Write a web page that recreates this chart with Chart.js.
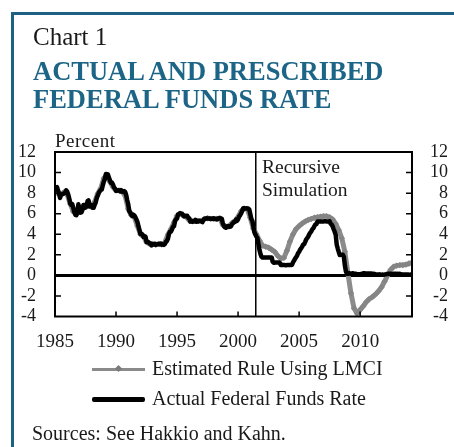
<!DOCTYPE html>
<html>
<head>
<meta charset="utf-8">
<script src="https://cdn.jsdelivr.net/npm/chart.js@4/dist/chart.umd.min.js"></script>
<style>
  html, body { margin:0; padding:0; background:#fff; }
  body { width:454px; height:447px; overflow:hidden; position:relative; font-family:"Liberation Serif","Times New Roman",serif; color:#1a1a1a; }
  #c { position:absolute; left:0; top:0; }
  .t { position:absolute; white-space:nowrap; }
  #frame { position:absolute; left:11px; top:12px; width:443px; height:435px; border-left:3px solid #1d6282; border-top:3px solid #1d6282; }
</style>
</head>
<body>
<div id="frame"></div>
<canvas id="c" width="454" height="447"></canvas>
<div class="t" style="left:33px;top:24px;font-size:25px;line-height:25px;">Chart 1</div>
<div class="t" style="left:33px;top:57.8px;font-size:26.5px;line-height:26.5px;font-weight:bold;color:#1d6586;">ACTUAL AND PRESCRIBED</div>
<div class="t" style="left:33px;top:86px;font-size:26.5px;line-height:26.5px;font-weight:bold;color:#1d6586;">FEDERAL FUNDS RATE</div>
<div class="t" style="left:55px;top:130.5px;font-size:19px;line-height:19px;letter-spacing:0.5px;">Percent</div>
<div class="t" style="left:262px;top:155px;font-size:19.5px;line-height:23px;">Recursive<br>Simulation</div>
<div style="position:absolute;left:92px;top:367.5px;width:53px;height:3px;background:#8a8a8a;"></div>
<div style="position:absolute;left:115.5px;top:366px;width:5px;height:5px;background:#7a7a7a;transform:rotate(45deg);"></div>
<div class="t" style="left:152px;top:358.3px;font-size:20px;line-height:20px;">Estimated Rule Using LMCI</div>
<div style="position:absolute;left:92px;top:397px;width:53px;height:4.5px;background:#000;border-radius:2px;"></div>
<div class="t" style="left:152px;top:388.3px;font-size:20px;line-height:20px;">Actual Federal Funds Rate</div>
<div class="t" style="left:32px;top:423.3px;font-size:20px;line-height:20px;">Sources: See Hakkio and Kahn.</div>
<script>
// ---- data ----
const actualStartYear = 1985;   // monthly series, first value = Jan 1985
const actualRate = [
  8.35,8.50,8.58,8.27,7.97,7.53,7.88,7.90,7.92,7.99,8.05,8.27,
  8.14,7.86,7.48,6.99,6.85,6.92,6.56,6.17,5.89,5.85,6.04,6.91,
  6.43,6.10,6.13,6.37,6.85,6.73,6.58,6.73,7.22,7.29,6.69,6.77,
  6.83,6.58,6.58,6.87,7.09,7.51,7.75,8.01,8.19,8.30,8.35,8.76,
  9.12,9.36,9.85,9.84,9.81,9.53,9.24,8.99,9.02,8.84,8.55,8.45,
  8.23,8.24,8.28,8.26,8.18,8.29,8.15,8.13,8.20,8.11,7.81,7.31,
  6.91,6.25,6.12,5.91,5.78,5.90,5.82,5.66,5.45,5.21,4.81,4.43,
  4.03,4.06,3.98,3.73,3.82,3.76,3.25,3.30,3.22,3.10,3.09,2.92,
  3.02,3.03,3.07,2.96,3.00,3.04,3.06,3.03,3.09,2.99,3.02,2.96,
  3.05,3.25,3.34,3.56,4.01,4.25,4.26,4.47,4.73,4.76,5.29,5.45,
  5.53,5.92,5.98,6.05,6.01,6.00,5.85,5.74,5.80,5.76,5.80,5.60,
  5.56,5.22,5.31,5.22,5.24,5.27,5.40,5.22,5.30,5.24,5.31,5.29,
  5.25,5.19,5.39,5.51,5.50,5.56,5.52,5.54,5.54,5.50,5.52,5.50,
  5.56,5.51,5.49,5.45,5.49,5.56,5.54,5.55,5.51,5.07,4.83,4.68,
  4.63,4.76,4.81,4.74,4.74,4.76,4.99,5.07,5.22,5.20,5.42,5.30,
  5.45,5.73,5.85,6.02,6.27,6.53,6.54,6.50,6.52,6.51,6.51,6.40,
  5.98,5.49,5.31,4.80,4.21,3.97,3.77,3.65,3.07,2.49,2.09,1.82,
  1.73,1.74,1.73,1.75,1.75,1.75,1.73,1.74,1.75,1.75,1.34,1.24,
  1.24,1.26,1.25,1.26,1.26,1.22,1.01,1.03,1.01,1.01,1.00,0.98,
  1.00,1.01,1.00,1.00,1.00,1.03,1.26,1.43,1.61,1.76,1.93,2.16,
  2.28,2.50,2.63,2.79,3.00,3.04,3.26,3.50,3.62,3.78,4.00,4.16,
  4.29,4.49,4.59,4.79,4.94,4.99,5.24,5.25,5.25,5.25,5.25,5.24,
  5.25,5.26,5.26,5.25,5.25,5.25,5.26,5.02,4.94,4.76,4.49,4.24,
  3.94,2.98,2.61,2.28,1.98,2.00,2.01,2.00,1.81,0.97,0.39,0.16,
  0.15,0.22,0.18,0.15,0.18,0.21,0.16,0.16,0.15,0.12,0.12,0.12,
  0.11,0.13,0.16,0.20,0.20,0.18,0.18,0.19,0.19,0.19,0.19,0.18,
  0.17,0.16,0.14,0.10,0.09,0.09,0.07,0.10,0.08,0.07,0.08,0.07,
  0.08,0.10,0.13,0.14,0.16,0.16,0.16,0.13,0.14,0.16,0.16,0.16,
  0.14,0.15,0.14,0.15,0.11,0.09,0.09,0.08,0.08,0.09,0.08,0.09,
  0.07,0.07,0.08
];
const ruleStartYear = 1985;     // quarterly series, first value = 1985 Q1
const ruleRate = [
  8.45,7.95,7.90,8.10,  7.85,6.95,6.20,6.25,  6.20,6.65,6.85,6.90,  6.65,7.15,7.95,8.45,
  9.45,9.75,9.10,8.60,  8.25,8.25,8.15,7.75,  6.45,5.85,5.65,4.80,  4.00,3.80,3.25,3.05,
  3.05,3.00,3.05,3.00,  3.20,3.95,4.50,5.15,  5.80,6.00,5.80,5.70,  5.35,5.25,5.30,5.30,
  5.30,5.50,5.55,5.50,  5.50,5.50,5.55,4.90,  4.75,4.75,5.10,5.30,  5.70,6.25,6.50,6.45,
  5.60,4.55,4.00,3.40,  2.90,2.80,2.70,2.50,  2.30,1.90,1.65,1.70,  2.40,3.30,4.00,4.50,
  4.80,5.05,5.25,5.40,  5.50,5.60,5.65,5.70,  5.75,5.75,5.65,5.45,  5.00,4.40,3.60,2.30,
  0.20,-1.75,-3.20,-3.70, -3.35,-3.00,-2.60,-2.30, -2.10,-1.85,-1.55,-1.15, -0.60,0.00,0.55,0.85,
  0.95,1.00,1.00,1.05,  1.15,1.25
];
const simulationStart = 2001.45;
const xTickYears = [1985, 1990, 1995, 2000, 2005, 2010];
const yTickValues = [-4, -2, 0, 2, 4, 6, 8, 10, 12];
const xMin = 1985, xMax = 2014.25, yMin = -4, yMax = 12;

// ---- build ----
const actualPts = actualRate.map((v, i) => ({ x: actualStartYear + i / 12, y: v }));
const rulePts = ruleRate.map((v, i) => ({ x: ruleStartYear + i / 4, y: v }));

const framePlugin = {
  id: 'frame',
  beforeDatasetsDraw(chart) {
    const { ctx, chartArea: a, scales: { x, y } } = chart;
    ctx.save();
    ctx.strokeStyle = '#000';
    ctx.lineWidth = 1.5;
    const vx = x.getPixelForValue(simulationStart);
    ctx.beginPath(); ctx.moveTo(vx, a.top); ctx.lineTo(vx, a.bottom); ctx.stroke();
    ctx.lineWidth = 3;
    const zy = y.getPixelForValue(0);
    ctx.beginPath(); ctx.moveTo(a.left, zy); ctx.lineTo(a.right, zy); ctx.stroke();
    ctx.restore();
  },
  afterDraw(chart) {
    const { ctx, chartArea: a, scales: { x, y } } = chart;
    ctx.save();
    ctx.strokeStyle = '#000';
    ctx.lineWidth = 2;
    ctx.strokeRect(a.left, a.top, a.right - a.left, a.bottom - a.top);
    ctx.lineWidth = 1.5;
    ctx.beginPath();
    yTickValues.forEach(v => {
      if (v === yMin || v === yMax || v === 0) return;
      const py = y.getPixelForValue(v);
      ctx.moveTo(a.left, py); ctx.lineTo(a.left + 6, py);
      ctx.moveTo(a.right - 6, py); ctx.lineTo(a.right, py);
    });
    xTickYears.forEach(v => {
      if (v === xMin) return;
      const px = x.getPixelForValue(v);
      ctx.moveTo(px, a.bottom); ctx.lineTo(px, a.bottom - 5);
    });
    ctx.stroke();
    ctx.restore();
  }
};

const tickFont = { family: 'Liberation Serif', size: 18, lineHeight: 1 };
const noGrid = { display: false, drawTicks: false, tickLength: 0 };

new Chart(document.getElementById('c'), {
  type: 'line',
  data: {
    datasets: [
      { label: 'Actual Federal Funds Rate', data: actualPts, borderColor: '#000', borderWidth: 4.5,
        pointRadius: 0, borderJoinStyle: 'round', borderCapStyle: 'round', tension: 0, order: 0 },
      { label: 'Estimated Rule Using LMCI', data: rulePts, borderColor: '#8c8c8c', borderWidth: 5,
        pointStyle: 'rectRot', pointRadius: 3.2, pointBackgroundColor: '#858585', pointBorderWidth: 0,
        borderJoinStyle: 'round', tension: 0, order: 1 }
    ]
  },
  options: {
    responsive: false,
    animation: false,
    devicePixelRatio: 1,
    layout: { padding: { top: 152, right: 6, bottom: 90.5, left: 0 } },
    plugins: { legend: { display: false }, tooltip: { enabled: false } },
    scales: {
      x: {
        type: 'linear', position: 'bottom', min: xMin, max: xMax,
        afterBuildTicks: s => { s.ticks = xTickYears.map(v => ({ value: v })); },
        afterFit: s => { s.height = 40; },
        grid: noGrid, border: { display: false },
        ticks: { font: { family: 'Liberation Serif', size: 19 }, color: '#1a1a1a', padding: 14,
                 maxRotation: 0, autoSkip: false, callback: v => String(v) }
      },
      y: {
        type: 'linear', position: 'left', min: yMin, max: yMax,
        afterBuildTicks: s => { s.ticks = yTickValues.map(v => ({ value: v })); },
        afterFit: s => { s.width = 55; },
        grid: noGrid, border: { display: false },
        ticks: { font: tickFont, color: '#1a1a1a', padding: 19, autoSkip: false, callback: v => String(v) }
      },
      y2: {
        type: 'linear', position: 'right', min: yMin, max: yMax,
        afterBuildTicks: s => { s.ticks = yTickValues.map(v => ({ value: v })); },
        afterFit: s => { s.width = 36; },
        grid: noGrid, border: { display: false },
        ticks: { font: tickFont, color: '#1a1a1a', padding: 0, crossAlign: 'far', autoSkip: false, callback: v => String(v) }
      }
    }
  },
  plugins: [framePlugin]
});
</script>
</body>
</html>
